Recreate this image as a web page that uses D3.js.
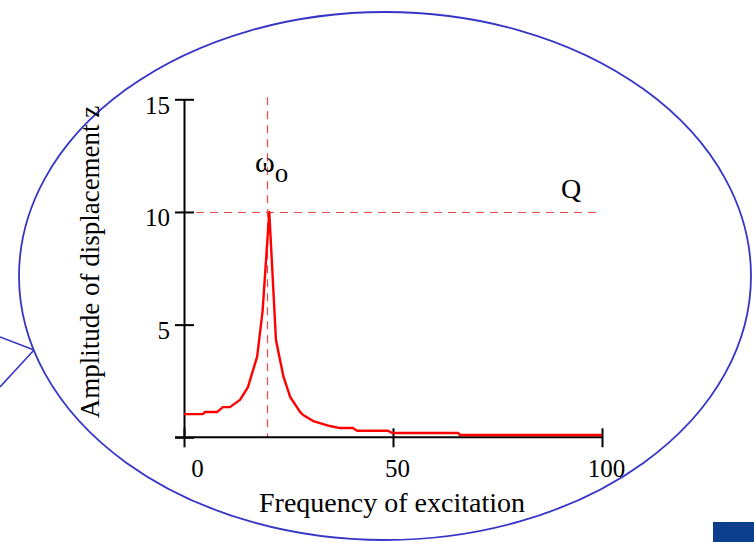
<!DOCTYPE html>
<html>
<head>
<meta charset="utf-8">
<script src="https://d3js.org/d3.v7.min.js"></script>
<style>
  body { margin: 0; background: #fff; }
  svg text { font-family: "Liberation Serif", "Times New Roman", serif; fill: #000; }
</style>
</head>
<body>
<svg id="chart" width="754" height="542"></svg>
<script>
// frequency of excitation (x) and amplitude of displacement z (y)
const freq = [0, 4.5, 5.0, 7.9, 9.3, 11.0, 13.4, 15.3, 17.5, 18.8, 20.4, 22.0, 23.8, 25.4, 27.8, 28.5, 30.9, 34.9, 37.3, 40.4, 41.4, 48.8, 49.8, 65.6, 66.0, 100];
const amp  = [1.03, 1.03, 1.12, 1.12, 1.34, 1.34, 1.66, 2.23, 3.58, 5.6, 10, 4.32, 2.69, 1.79, 1.12, 0.99, 0.72, 0.50, 0.41, 0.41, 0.29, 0.29, 0.19, 0.19, 0.10, 0.10];
const xTicks = [0, 50, 100];
const yTicks = [0, 5, 10, 15];
const omega0 = 20;
const qValue = 10;

const svg = d3.select("#chart");

// speech-bubble ellipse with tail
const bubble = "#3535c8";
svg.append("line").attr("x1", 0).attr("y1", 337).attr("x2", 34).attr("y2", 350)
  .attr("stroke", bubble).attr("stroke-width", 1.6);
svg.append("line").attr("x1", 0).attr("y1", 387).attr("x2", 34).attr("y2", 350)
  .attr("stroke", bubble).attr("stroke-width", 1.6);
svg.append("ellipse")
  .attr("cx", 385).attr("cy", 276).attr("rx", 366).attr("ry", 264)
  .attr("fill", "none").attr("stroke", bubble).attr("stroke-width", 1.8);

// slide corner box
svg.append("rect").attr("x", 713).attr("y", 522).attr("width", 41).attr("height", 20)
  .attr("fill", "#0b3f8e");

const x = d3.scaleLinear().domain([0, 100]).range([184, 602]);
const y = d3.scaleLinear().domain([0, 15]).range([437.3, 99.3]);

// dashed guide lines at omega0 and Q
const guide = svg.append("g").attr("stroke", "#ec4848").attr("stroke-width", 1.2)
  .attr("stroke-dasharray", "8,6");
const gxPos = Math.round(x(omega0)) - 0.5;
guide.append("line").attr("x1", gxPos).attr("x2", gxPos)
  .attr("y1", y(15) - 2).attr("y2", y(0));
guide.append("line").attr("x1", x(-0.5)).attr("x2", x(100))
  .attr("y1", Math.round(y(qValue)) + 0.5).attr("y2", Math.round(y(qValue)) + 0.5);

// axes
const yAxis = d3.axisLeft(y).tickValues(yTicks).tickSizeInner(9).tickSizeOuter(0)
  .tickPadding(5).tickFormat(d => d === 0 ? "" : d);
const gy = svg.append("g").attr("transform", `translate(${x(0)},0)`).call(yAxis);
gy.selectAll(".tick line").attr("x1", 10);
gy.selectAll(".tick text").attr("font-size", 25).attr("dy", "0.55em")
  .style("font-family", "'Liberation Serif', serif");

const xAxis = d3.axisBottom(x).tickValues(xTicks).tickSizeInner(10).tickSizeOuter(0)
  .tickPadding(10);
const gx = svg.append("g").attr("transform", `translate(0,${y(0)})`).call(xAxis);
gx.selectAll(".tick line").attr("y1", -9);
gx.selectAll(".tick text").attr("font-size", 25).attr("dx", d => d === 0 ? 13 : 4)
  .attr("dy", "0.78em").style("font-family", "'Liberation Serif', serif");
gx.select(".domain").attr("d", `M${x(0) - 9},0H${x(100)}`);

svg.selectAll(".domain, .tick line").attr("stroke", "#000").attr("stroke-width", 2);

// response curve
const line = d3.line().x((d, i) => x(freq[i])).y(d => y(d));
svg.append("path").datum(amp)
  .attr("d", line)
  .attr("fill", "none").attr("stroke", "#ff0000").attr("stroke-width", 2.4)
  .attr("stroke-linejoin", "round");

// labels
svg.append("text").attr("x", 392).attr("y", 512).attr("text-anchor", "middle")
  .attr("font-size", 28).text("Frequency of excitation");
svg.append("text").attr("transform", "translate(99,262) rotate(-90)")
  .attr("text-anchor", "middle").attr("font-size", 27).text("Amplitude of displacement z");

const w = svg.append("text").attr("x", 255).attr("y", 172).attr("font-size", 30);
w.append("tspan").text("ω");
w.append("tspan").attr("dy", 10).attr("font-size", 27).text("o");
svg.append("text").attr("x", 561).attr("y", 198).attr("font-size", 28).text("Q");
</script>
</body>
</html>
